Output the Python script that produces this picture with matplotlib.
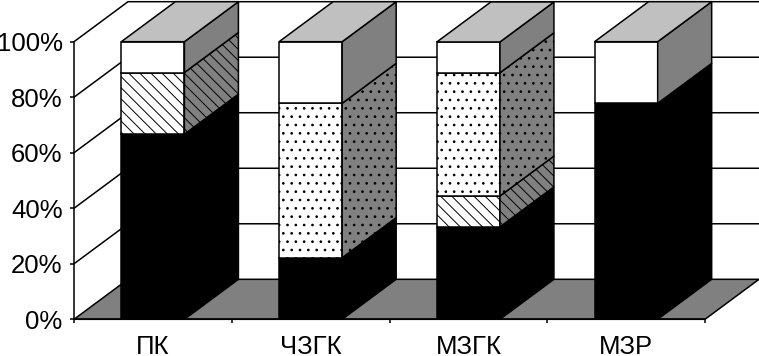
import matplotlib
matplotlib.use('Agg')
import matplotlib.pyplot as plt
from matplotlib.patches import Polygon

plt.rcParams['font.family'] = ['Liberation Sans', 'DejaVu Sans']
plt.rcParams['hatch.linewidth'] = 0.7

kategorie = ['ПК', 'ЧЗГК', 'МЗГК', 'МЗР']
czarny = [66.7, 22.2, 33.3, 77.8]
kreski = [22.2, 0, 11.1, 0]
kropki = [0, 55.6, 44.4, 0]
bialy = [11.1, 22.2, 11.1, 22.2]
y_ticks = [0, 20, 40, 60, 80, 100]
y_labels = ['0%', '20%', '40%', '60%', '80%', '100%']

# glebokosc "3D" w jednostkach danych
dx = 54 / 157.75
dy = 40 / 2.776
szer = 0.4

fig = plt.figure(figsize=(7.59, 3.56), dpi=100)
ax = fig.add_axes([0, 0, 1, 1])
ax.set_xlim(-74 / 157.75, (759 - 74) / 157.75)
ax.set_ylim(-(356 - 319.3) / 2.776, 100 + 41.7 / 2.776)

# sciany i podloga
lw = 1.1
for y in y_ticks[1:]:
    ax.plot([0, dx, 4 + dx], [y, y + dy, y + dy], color='black', lw=lw, zorder=1)
ax.add_patch(Polygon([(0, 0), (4, 0), (4 + dx, dy), (dx, dy)], facecolor='#808080',
                     edgecolor='black', lw=lw, zorder=2))

serie = [
    (czarny, 'black', ''),
    (kreski, 'white', '\\\\\\'),
    (kropki, 'white', '..'),
    (bialy, 'white', ''),
]

for i in range(len(kategorie)):
    x0 = i + 0.5 - szer / 2
    x1 = x0 + szer
    dol = 0
    for wart, kolor, wzor in serie:
        v = wart[i]
        if v == 0:
            continue
        ax.bar(x0, v, width=szer, bottom=dol, align='edge', facecolor=kolor,
               edgecolor='black', hatch=wzor, lw=lw, zorder=3)
        bok = '#808080' if kolor == 'white' else 'black'
        ax.add_patch(Polygon([(x1, dol), (x1 + dx, dol + dy), (x1 + dx, dol + v + dy), (x1, dol + v)],
                             facecolor=bok, edgecolor='black', hatch=wzor, lw=lw, zorder=3))
        dol += v
    ax.add_patch(Polygon([(x0, dol), (x1, dol), (x1 + dx, dol + dy), (x0 + dx, dol + dy)],
                         facecolor='#c0c0c0', edgecolor='black', lw=lw, zorder=3))

for s in ['top', 'right']:
    ax.spines[s].set_visible(False)
ax.spines['left'].set_position(('data', 0))
ax.spines['bottom'].set_position(('data', 0))
ax.spines['left'].set_bounds(0, 100)
ax.spines['bottom'].set_bounds(0, 4)
ax.spines['left'].set_linewidth(lw)
ax.spines['bottom'].set_linewidth(lw)
ax.spines['left'].set_zorder(4)
ax.spines['bottom'].set_zorder(4)

ax.set_yticks(y_ticks)
ax.set_yticklabels(y_labels, fontsize=18.5)
ax.set_xticks([0, 1, 2, 3, 4])
ax.set_xticklabels([])
ax.set_xticks([0.5, 1.5, 2.5, 3.5], minor=True)
ax.set_xticklabels(kategorie, minor=True, fontsize=18.5)
ax.tick_params(axis='x', which='minor', length=0, pad=11)
ax.tick_params(axis='both', which='major', length=3.2, width=lw)
ax.tick_params(axis='y', pad=5)

fig.savefig('out.png', dpi=100)
